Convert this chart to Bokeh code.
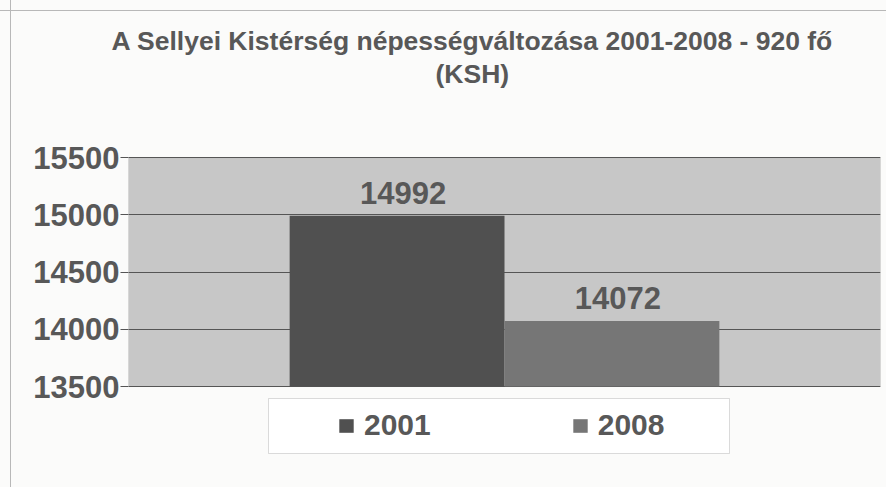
from bokeh.plotting import figure
from bokeh.models import (ColumnDataSource, Range1d, FactorRange, LabelSet, Title, Legend,
                          LegendItem, FixedTicker, BoxAnnotation)
from bokeh.core.properties import value
from bokeh.embed import file_html
from bokeh.resources import INLINE

# ---- data ----
categories = ["2001", "2008"]
values = [14992, 14072]
bar_colors = ["#505050", "#767676"]
y_ticks = [13500, 14000, 14500, 15000, 15500]
title_line1 = "A Sellyei Kistérség népességváltozása 2001-2008 - 920 fő"
title_line2 = "(KSH)"

FONT = "Liberation Sans"
TXT = "#585858"

# layout: frame extends above/below the value axis to hold labels and the legend
Y_LOW, Y_HIGH = 12618, 16103

source = ColumnDataSource(dict(
    x=categories,
    top=values,
    bottom=[y_ticks[0]] * len(values),
    color=bar_colors,
    label=[str(v) for v in values],
))

p = figure(
    width=886, height=487,
    x_range=FactorRange(*categories, range_padding=0.75),
    y_range=Range1d(Y_LOW, Y_HIGH),
    output_backend="svg", toolbar_location=None,
    min_border_left=128, min_border_right=6, min_border_top=88, min_border_bottom=0,
    background_fill_alpha=0, border_fill_alpha=0,
)
p.title = None
p.outline_line_color = None

t2 = Title(text=title_line2, align="left", offset=307, standoff=0,
           text_font=FONT, text_font_size="26.5px", text_font_style="bold", text_color=TXT)
t1 = Title(text=title_line1, align="left", offset=-17, standoff=2,
           text_font=FONT, text_font_size="26.5px", text_font_style="bold", text_color=TXT)
p.add_layout(t2, "above")
p.add_layout(t1, "above")

# plot area (grey panel between first and last tick)
panel = BoxAnnotation(bottom=y_ticks[0], top=y_ticks[-1], fill_color="#c7c7c7", fill_alpha=1,
                      line_color="#555555", line_width=1, level="image")
p.add_layout(panel)

r = p.vbar(x="x", top="top", bottom="bottom", width=1.0, source=source,
           fill_color="color", line_color=None)

labels = LabelSet(x="x", y="top", text="label", source=source,
                  text_font=value(FONT), text_font_size=value("31px"),
                  text_font_style="bold",
                  text_color=TXT, text_align="center", text_baseline="middle",
                  x_offset=6, y_offset=23)
p.add_layout(labels)

p.xaxis.visible = False
p.xgrid.visible = False
p.ygrid.ticker = FixedTicker(ticks=y_ticks)
p.ygrid.grid_line_color = "#555555"
p.ygrid.grid_line_width = 1
p.yaxis.ticker = FixedTicker(ticks=y_ticks)
p.yaxis.major_label_text_font = FONT
p.yaxis.major_label_text_font_size = "31px"
p.yaxis.major_label_text_font_style = "bold"
p.yaxis.major_label_text_color = TXT
p.yaxis.major_tick_out = 8
p.yaxis.major_tick_in = 0
p.yaxis.minor_tick_line_color = None
p.yaxis.major_label_standoff = 1
p.yaxis.axis_line_color = None
p.yaxis.major_tick_line_color = "#555555"

# legend box + legend
p.add_layout(BoxAnnotation(left=140, right=601, bottom=34, top=89,
                           left_units="screen", right_units="screen",
                           bottom_units="screen", top_units="screen",
                           fill_color="#ffffff", fill_alpha=1,
                           line_color="#8a8a8a", line_width=1))
legend = Legend(
    items=[LegendItem(label=categories[i], renderers=[r], index=i) for i in range(len(categories))],
    orientation="horizontal", location=(209, 45),
    label_text_font=FONT, label_text_font_size="30px", label_text_font_style="bold",
    label_text_color=TXT, glyph_width=18, glyph_height=17,
    label_standoff=9, spacing=140, padding=10, margin=0,
    border_line_color=None, background_fill_alpha=0,
)
p.add_layout(legend)
p.styles = {
    "background-color": "#fbfbfa",
    "background-image": "linear-gradient(#b8b8b8,#b8b8b8), linear-gradient(#b8b8b8,#b8b8b8)",
    "background-size": "1px 100%, 100% 1px",
    "background-position": "10px 0px, 0px 10px",
    "background-repeat": "no-repeat",
}

open("out.html", "w").write(file_html(p, INLINE))
